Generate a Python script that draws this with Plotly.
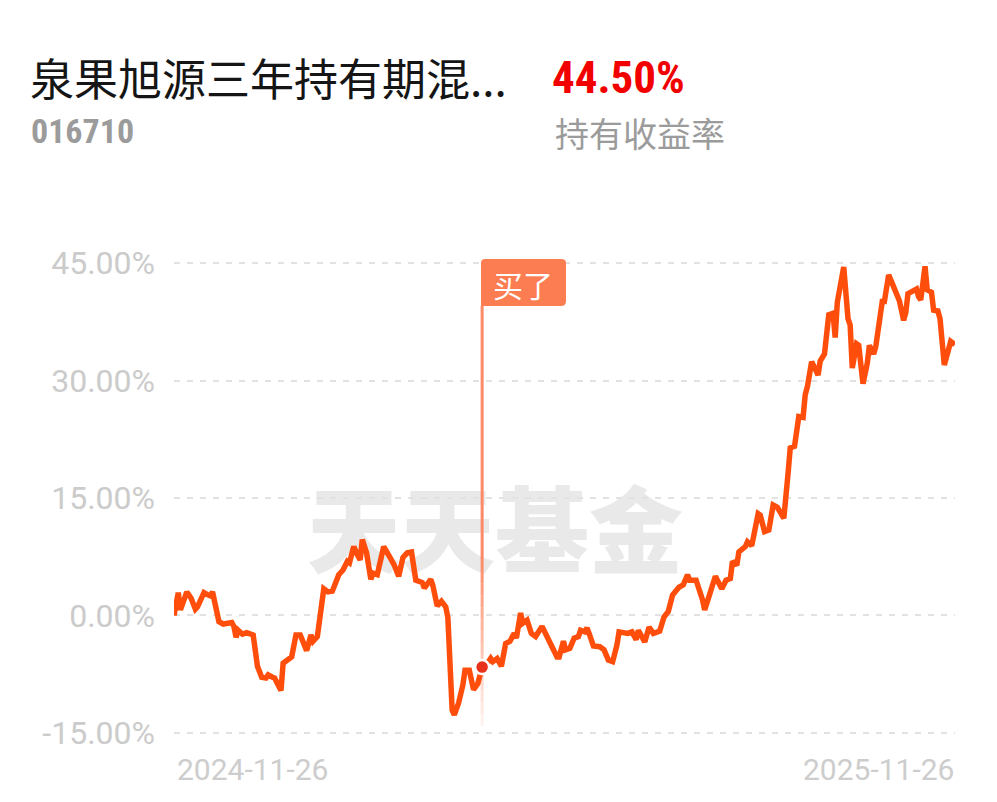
import plotly.graph_objects as go

# ---------------- data ----------------
dates = [
    "2024-11-26", "2024-11-28", "2024-11-29", "2024-11-30", "2024-12-02", "2024-12-04", "2024-12-06", "2024-12-07",
    "2024-12-10", "2024-12-12", "2024-12-13", "2024-12-14", "2024-12-17", "2024-12-19", "2024-12-23", "2024-12-24",
    "2024-12-25", "2024-12-26", "2024-12-28", "2024-12-30", "2025-01-02", "2025-01-04", "2025-01-06", "2025-01-08",
    "2025-01-09", "2025-01-11", "2025-01-12", "2025-01-15", "2025-01-16", "2025-01-18", "2025-01-20", "2025-01-22",
    "2025-01-24", "2025-01-27", "2025-01-29", "2025-01-30", "2025-02-01", "2025-02-04", "2025-02-06", "2025-02-08",
    "2025-02-11", "2025-02-13", "2025-02-15", "2025-02-16", "2025-02-18", "2025-02-20", "2025-02-21", "2025-02-22",
    "2025-02-24", "2025-02-26", "2025-02-27", "2025-03-01", "2025-03-04", "2025-03-07", "2025-03-09", "2025-03-11",
    "2025-03-13", "2025-03-15", "2025-03-17", "2025-03-19", "2025-03-22", "2025-03-23", "2025-03-26", "2025-03-27",
    "2025-03-29", "2025-03-31", "2025-04-02", "2025-04-03", "2025-04-04", "2025-04-05", "2025-04-06", "2025-04-08",
    "2025-04-10", "2025-04-11", "2025-04-13", "2025-04-15", "2025-04-17", "2025-04-19", "2025-04-21", "2025-04-23",
    "2025-04-24", "2025-04-26", "2025-04-28", "2025-04-30", "2025-05-02", "2025-05-04", "2025-05-05", "2025-05-07",
    "2025-05-08", "2025-05-10", "2025-05-12", "2025-05-14", "2025-05-17", "2025-05-19", "2025-05-22", "2025-05-24",
    "2025-05-25", "2025-05-27", "2025-05-28", "2025-05-30", "2025-06-01", "2025-06-03", "2025-06-04", "2025-06-06",
    "2025-06-07", "2025-06-08", "2025-06-10", "2025-06-13", "2025-06-15", "2025-06-17", "2025-06-19", "2025-06-21",
    "2025-06-22", "2025-06-26", "2025-06-28", "2025-06-30", "2025-07-01", "2025-07-04", "2025-07-06", "2025-07-08",
    "2025-07-11", "2025-07-13", "2025-07-15", "2025-07-17", "2025-07-20", "2025-07-22", "2025-07-24", "2025-07-25",
    "2025-07-28", "2025-07-31", "2025-08-01", "2025-08-03", "2025-08-06", "2025-08-09", "2025-08-11", "2025-08-13",
    "2025-08-14", "2025-08-16", "2025-08-17", "2025-08-20", "2025-08-21", "2025-08-23", "2025-08-26", "2025-08-27",
    "2025-08-29", "2025-08-31", "2025-09-02", "2025-09-04", "2025-09-07", "2025-09-09", "2025-09-10", "2025-09-12",
    "2025-09-14", "2025-09-16", "2025-09-17", "2025-09-18", "2025-09-20", "2025-09-22", "2025-09-23", "2025-09-24",
    "2025-09-26", "2025-09-28", "2025-09-30", "2025-10-01", "2025-10-02", "2025-10-05", "2025-10-07", "2025-10-08",
    "2025-10-09", "2025-10-11", "2025-10-12", "2025-10-14", "2025-10-16", "2025-10-17", "2025-10-19", "2025-10-20",
    "2025-10-23", "2025-10-24", "2025-10-26", "2025-10-28", "2025-10-30", "2025-10-31", "2025-11-02", "2025-11-03",
    "2025-11-04", "2025-11-06", "2025-11-08", "2025-11-09", "2025-11-10", "2025-11-12", "2025-11-13", "2025-11-15",
    "2025-11-16", "2025-11-18", "2025-11-19", "2025-11-21", "2025-11-22", "2025-11-24", "2025-11-26",
]
returns_pct = [
    0.0, 2.9, 0.7, 1.6, 3.0, 2.2, 0.8, 1.1,
    2.9, 2.6, 2.5, 3.0, -0.8, -1.1, -0.9, -1.4,
    -2.8, -1.9, -2.4, -2.2, -2.5, -6.5, -7.9, -8.0,
    -7.6, -7.9, -8.0, -9.6, -6.1, -5.7, -5.3, -2.5,
    -2.5, -4.5, -2.5, -3.3, -2.7, 3.4, 3.0, 3.1,
    5.2, 5.8, 6.9, 6.7, 8.8, 7.6, 7.1, 9.7,
    8.0, 4.6, 5.4, 5.2, 8.8, 7.4, 6.4, 5.0,
    7.4, 8.0, 8.1, 4.5, 4.2, 3.5, 4.6, 3.8,
    1.2, 1.8, 1.1, -0.3, -8.2, -12.1, -12.7, -11.2,
    -8.9, -7.0, -7.0, -9.5, -8.7, -6.6, -6.3, -5.5,
    -5.9, -5.5, -6.5, -3.6, -3.3, -2.3, -2.9, 0.3,
    -1.0, -0.6, -2.3, -2.7, -1.4, -2.7, -4.2, -5.3,
    -5.3, -3.3, -4.4, -4.2, -2.9, -2.7, -1.9, -2.1,
    -1.6, -2.3, -3.9, -4.0, -4.4, -5.7, -5.9, -3.8,
    -2.1, -2.3, -2.1, -3.1, -1.9, -3.4, -1.5, -2.3,
    -2.0, -0.2, 0.5, 2.6, 3.6, 3.9, 5.2, 4.5,
    4.5, 2.0, 0.7, 2.4, 5.0, 3.4, 4.5, 4.7,
    6.9, 6.4, 8.1, 8.8, 9.4, 8.9, 13.0, 12.8,
    10.7, 10.9, 14.1, 13.8, 12.4, 18.2, 21.4, 21.6,
    25.4, 25.3, 28.2, 29.2, 32.4, 31.3, 30.7, 32.5,
    33.4, 38.4, 38.6, 35.5, 40.0, 44.5, 37.9, 37.1,
    31.6, 34.7, 34.5, 29.6, 32.2, 34.5, 33.4, 34.4,
    40.1, 40.1, 43.5, 42.2, 40.7, 40.2, 37.7, 38.7,
    41.1, 41.4, 41.7, 40.7, 40.3, 44.6, 41.6, 41.3,
    39.0, 38.9, 37.9, 32.0, 32.9, 35.0, 34.6,
]
buy_date = "2025-04-19"
buy_value = -6.6
y_ticks = [-15, 0, 15, 30, 45]
y_tick_labels = ["-15.00%", "0.00%", "15.00%", "30.00%", "45.00%"]
y_range = [-15.15, 45.15]
x_end_labels = ["2024-11-26", "2025-11-26"]
fund_name = "泉果旭源三年持有期混..."
fund_code = "016710"
hold_return = "44.50%"
hold_return_label = "持有收益率"
buy_label = "买了"
watermark = "天天基金"

# ---------------- layout helpers ----------------
W, H = 997, 802
L, R, T, B = 174, 955, 262, 734


def px(x):
    return (x - L) / (R - L)


def py(y):
    return (B - y) / (B - T)


LINE_COLOR = "#ff4e0c"
NARROW = "Liberation Sans Narrow, Roboto Condensed, Roboto, sans-serif"

fig = go.Figure()

fig.add_trace(go.Scatter(
    x=dates, y=returns_pct, mode="lines",
    line=dict(color=LINE_COLOR, width=5.5),
    hoverinfo="skip", showlegend=False,
))

fig.add_trace(go.Scatter(
    x=[buy_date], y=[buy_value], mode="markers",
    marker=dict(color="#e8321c", size=14, line=dict(color="white", width=2.5)),
    hoverinfo="skip", showlegend=False, cliponaxis=False,
))

shapes = []
# watermark (below everything)
shapes.append(dict(
    type="rect", xref="paper", yref="paper",
    x0=px(290), x1=px(700), y0=py(590), y1=py(490),
    line=dict(width=0), fillcolor="rgba(0,0,0,0)", layer="below",
    label=dict(text=watermark, textposition="middle center",
               font=dict(family="Noto Sans CJK SC", size=94, color="#e9e9e9", weight=900)),
))
# vertical "bought" line, fading downwards
shapes.append(dict(
    type="line", xref="x", yref="paper", x0=buy_date, x1=buy_date,
    y0=py(306), y1=py(560), line=dict(color="#fd8a66", width=3), layer="above",
))
n_seg = 14
top, bot = 560, 726
for i in range(n_seg):
    y0 = top + (bot - top) * i / n_seg
    y1 = top + (bot - top) * (i + 1) / n_seg
    op = 1.0 - 0.92 * (i + 0.5) / n_seg
    shapes.append(dict(
        type="line", xref="x", yref="paper", x0=buy_date, x1=buy_date,
        y0=py(y0), y1=py(y1),
        line=dict(color=f"rgba(253,138,102,{op:.3f})", width=3), layer="below",
    ))
# label box
shapes.append(dict(
    type="path", xref="paper", yref="paper",
    path=(f"M {px(481)},{py(306)} L {px(481)},{py(263)} "
          f"Q {px(481)},{py(259)} {px(485)},{py(259)} L {px(561)},{py(259)} "
          f"Q {px(566)},{py(259)} {px(566)},{py(263)} L {px(566)},{py(301)} "
          f"Q {px(566)},{py(306)} {px(561)},{py(306)} Z"),
    fillcolor="#fc7d51", line=dict(width=0), layer="above",
))

annotations = [
    dict(text=buy_label, xref="paper", yref="paper", x=px(523), y=py(284),
         xanchor="center", yanchor="middle", showarrow=False,
         font=dict(family="Noto Sans CJK SC", size=30, color="white")),
    dict(text=fund_name, xref="paper", yref="paper", x=px(28), y=py(77),
         xanchor="left", yanchor="middle", showarrow=False,
         font=dict(family="Noto Sans CJK SC", size=44, color="#151515")),
    dict(text=fund_code, xref="paper", yref="paper", x=px(29), y=py(131),
         xanchor="left", yanchor="middle", showarrow=False,
         font=dict(family=NARROW, size=34, color="#9b9b9b", weight="bold")),
    dict(text=hold_return, xref="paper", yref="paper", x=px(550), y=py(78),
         xanchor="left", yanchor="middle", showarrow=False,
         font=dict(family=NARROW, size=45, color="#f20000", weight="bold")),
    dict(text=hold_return_label, xref="paper", yref="paper", x=px(553), y=py(133),
         xanchor="left", yanchor="middle", showarrow=False,
         font=dict(family="Noto Sans CJK SC", size=34, color="#9b9b9b")),
    dict(text=x_end_labels[0], xref="paper", yref="paper", x=px(175), y=py(769),
         xanchor="left", yanchor="middle", showarrow=False,
         font=dict(family="Roboto", size=30, color="#cdcdcd")),
    dict(text=x_end_labels[1], xref="paper", yref="paper", x=px(956), y=py(769),
         xanchor="right", yanchor="middle", showarrow=False,
         font=dict(family="Roboto", size=30, color="#cdcdcd")),
]

fig.update_layout(
    width=W, height=H,
    margin=dict(l=L, r=W - R, t=T, b=H - B, pad=0),
    paper_bgcolor="white", plot_bgcolor="white",
    showlegend=False,
    shapes=shapes,
    annotations=annotations,
    xaxis=dict(
        type="date", range=[dates[0], dates[-1]],
        showgrid=False, zeroline=False, showline=False,
        showticklabels=False, ticks="", fixedrange=True,
    ),
    yaxis=dict(
        range=y_range, tickvals=y_ticks, ticktext=y_tick_labels,
        showgrid=True, gridcolor="#e2e2e2", gridwidth=2, griddash="6px,7px",
        zeroline=False, showline=False, ticks="",
        ticklabelstandoff=18,
        tickfont=dict(family="Roboto", size=32, color="#cbcbcb"),
        fixedrange=True,
    ),
)

fig.write_html(
    "out.html",
    config={"displayModeBar": False, "staticPlot": True},
    post_script="document.body.style.margin='0';document.body.style.padding='0';",
)
